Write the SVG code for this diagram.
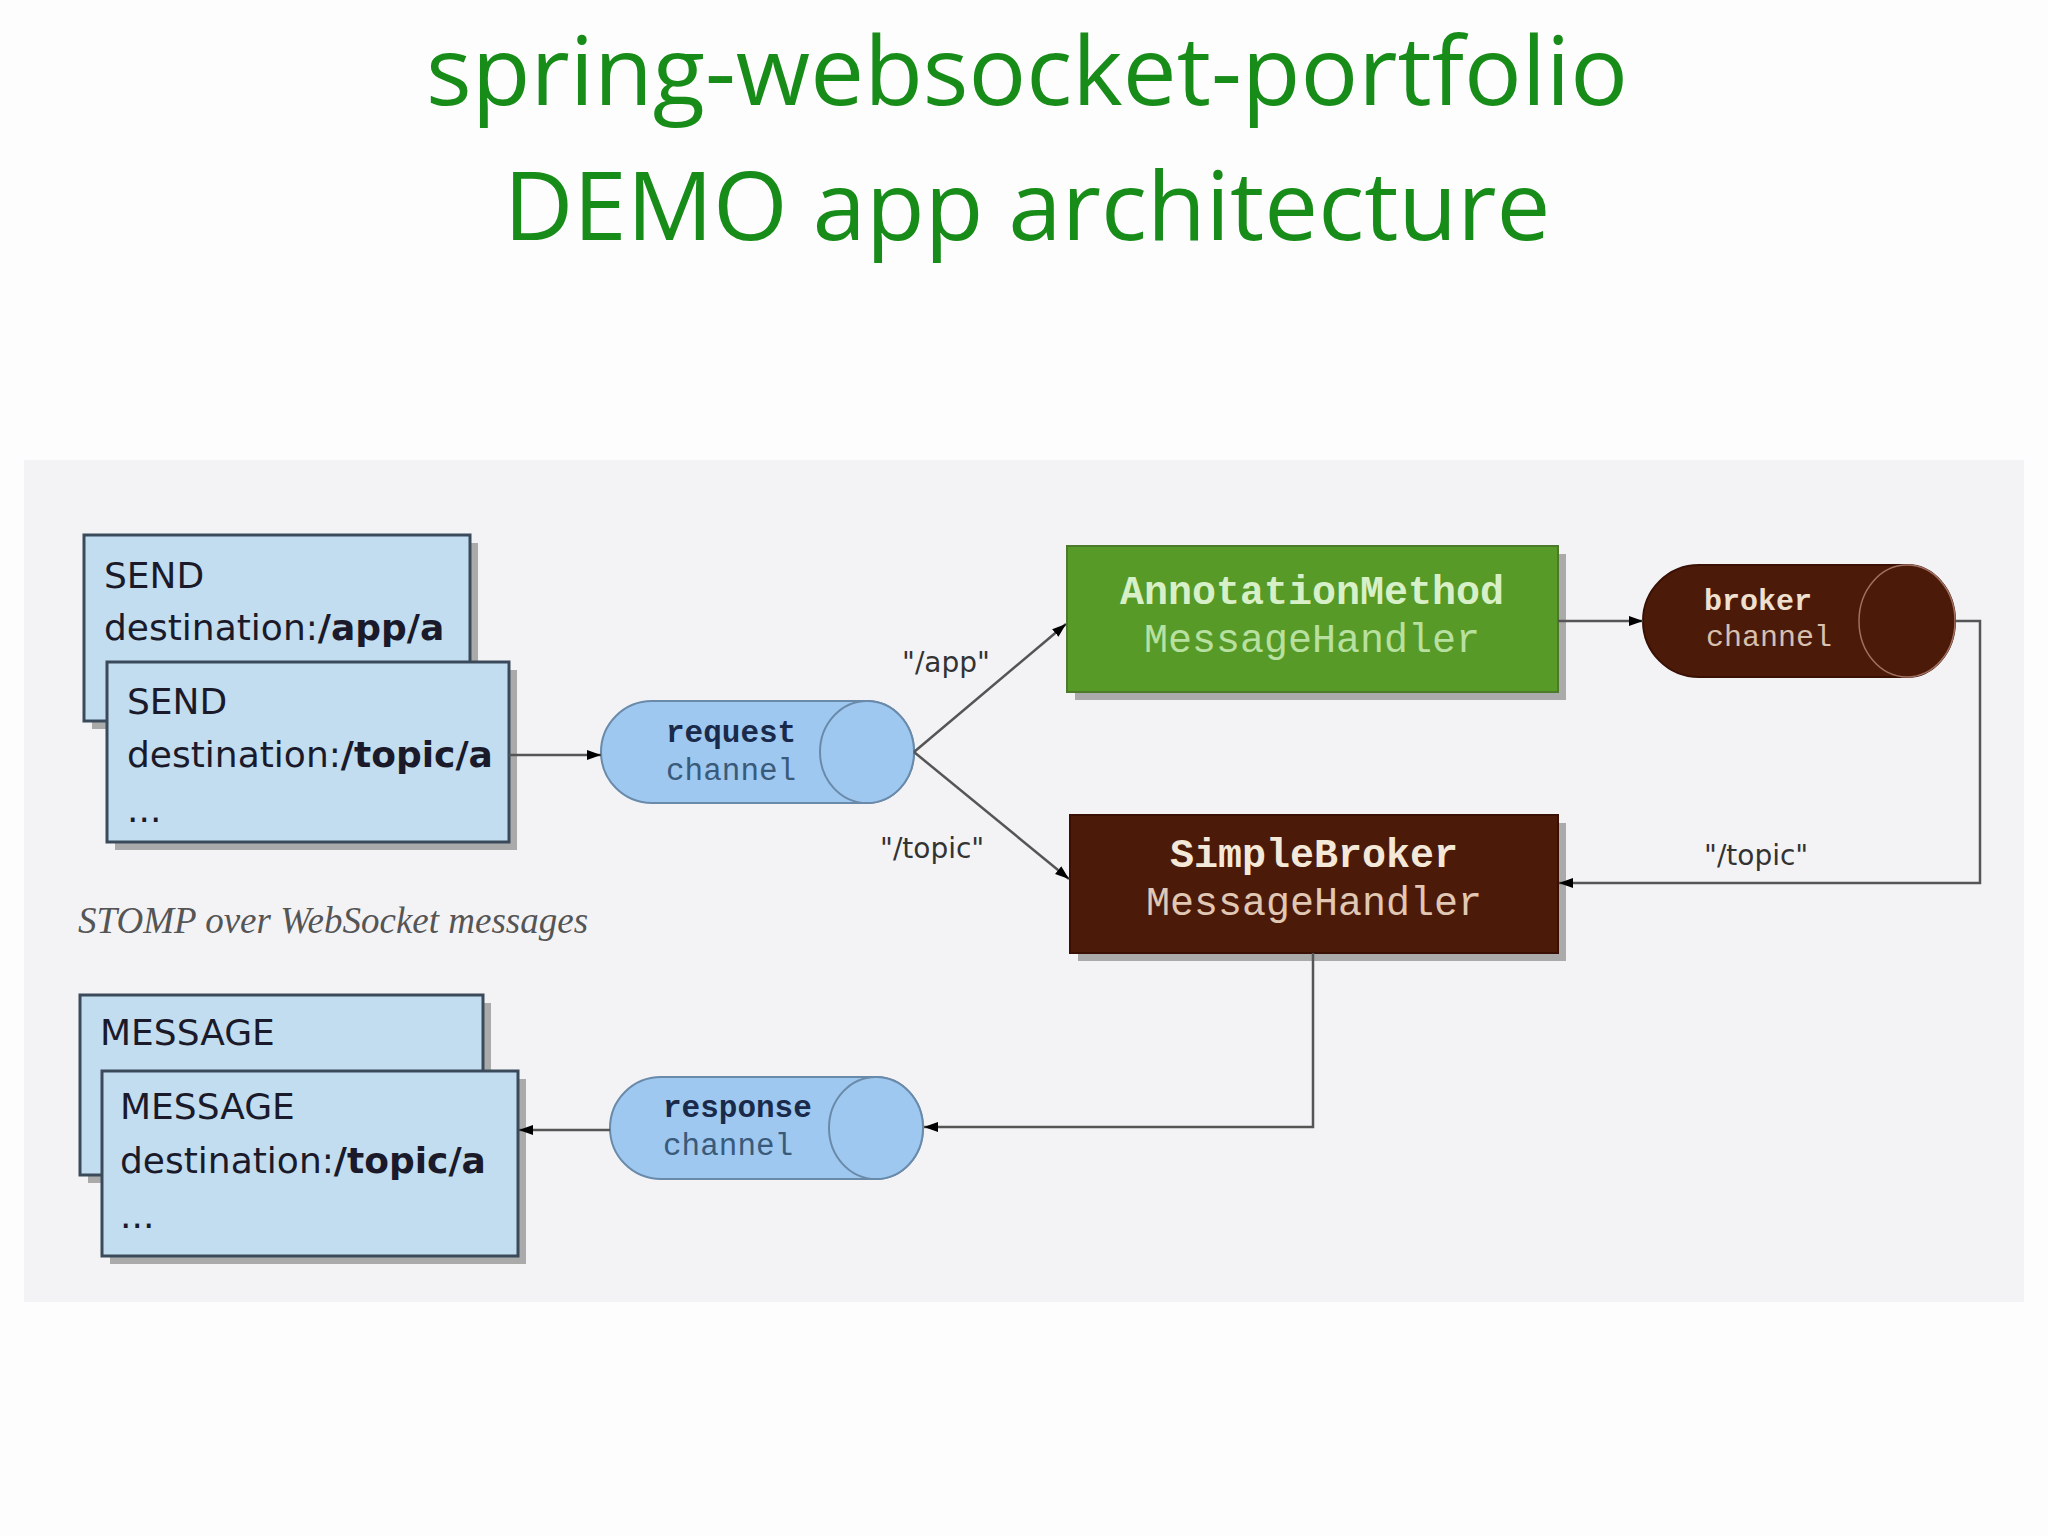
<svg xmlns="http://www.w3.org/2000/svg" width="2048" height="1536" viewBox="0 0 2048 1536">
<style>
.title{font-family:"Open Sans","Liberation Sans",sans-serif;font-size:96px;fill:#188c18;text-anchor:middle}
.msg{font-family:"DejaVu Sans",sans-serif;font-size:36px;fill:#1a1a2a}
.b{font-weight:bold}
.mono{font-family:"Liberation Mono","DejaVu Sans Mono",monospace}
.box{fill:#c3ddf0;stroke:#3a4a5a;stroke-width:3}
.sh{fill:#8a8a8a;opacity:0.7}
.conn{stroke:#555;stroke-width:2.5;fill:none}
.lbl{font-family:"DejaVu Sans",sans-serif;font-size:28px;fill:#333}
</style>
<defs>
<marker id="ah" viewBox="0 0 10 10" refX="10" refY="5" markerWidth="14" markerHeight="14" markerUnits="userSpaceOnUse" orient="auto"><path d="M0,1.5 L10,5 L0,8.5 z" fill="#000"/></marker>
</defs>
<rect width="2048" height="1536" fill="#fdfdfe"/>
<rect x="24" y="460" width="2000" height="842" fill="#f3f3f6"/>
<text class="title" x="1027" y="105">spring-websocket-portfolio</text>
<text class="title" x="1027" y="240">DEMO app architecture</text>

<g id="send-back"><rect class="sh" x="92" y="543" width="386" height="186"/><rect class="box" x="84" y="535" width="386" height="186"/>
<text class="msg" x="104" y="588">SEND</text><text class="msg" x="104" y="640">destination:<tspan class="b">/app/a</tspan></text></g>
<g id="send-front"><rect class="sh" x="115" y="670" width="402" height="180"/><rect class="box" x="107" y="662" width="402" height="180"/>
<text class="msg" x="127" y="714">SEND</text><text class="msg" x="127" y="767">destination:<tspan class="b">/topic/a</tspan></text><text class="msg" x="127" y="822">...</text></g>

<text x="78" y="933" font-family="Liberation Serif,serif" font-style="italic" font-size="37" fill="#555">STOMP over WebSocket messages</text>

<g id="msg-back"><rect class="sh" x="88" y="1003" width="403" height="180"/><rect class="box" x="80" y="995" width="403" height="180"/>
<text class="msg" x="100" y="1045">MESSAGE</text></g>
<g id="msg-front"><rect class="sh" x="110" y="1079" width="416" height="185"/><rect class="box" x="102" y="1071" width="416" height="185"/>
<text class="msg" x="120" y="1119">MESSAGE</text><text class="msg" x="120" y="1173">destination:<tspan class="b">/topic/a</tspan></text><text class="msg" x="120" y="1228">...</text></g>

<g id="request-channel">
<path d="M652,701 H867 A47,51 0 0 1 867,803 H652 A51,51 0 0 1 652,701 z" fill="#9ec8f0" stroke="#6a8aaa" stroke-width="2"/>
<ellipse cx="867" cy="752" rx="47" ry="51" fill="#9ec8f0" stroke="#6a8aaa" stroke-width="2"/>
<text class="mono b" x="666" y="742" font-size="31" fill="#1a2a4a">request</text>
<text class="mono" x="666" y="780" font-size="31" fill="#3a5a7a">channel</text></g>

<g id="response-channel">
<path d="M661,1077 H876 A47,51 0 0 1 876,1179 H661 A51,51 0 0 1 661,1077 z" fill="#9ec8f0" stroke="#6a8aaa" stroke-width="2"/>
<ellipse cx="876" cy="1128" rx="47" ry="51" fill="#9ec8f0" stroke="#6a8aaa" stroke-width="2"/>
<text class="mono b" x="663" y="1117" font-size="31" fill="#1a2a4a">response</text>
<text class="mono" x="663" y="1155" font-size="31" fill="#3a5a7a">channel</text></g>

<g id="annotation-handler"><rect class="sh" x="1075" y="554" width="491" height="146"/>
<rect x="1067" y="546" width="491" height="146" fill="#579a27" stroke="#4a7a2a" stroke-width="2"/>
<text class="mono b" x="1312" y="604" font-size="40" fill="#d8f0c8" text-anchor="middle">AnnotationMethod</text>
<text class="mono" x="1312" y="652" font-size="40" fill="#b8e0a0" text-anchor="middle">MessageHandler</text></g>

<g id="broker-channel">
<path d="M1699,565 H1907 A48,56 0 0 1 1907,677 H1699 A56,56 0 0 1 1699,565 z" fill="#4c1a08" stroke="#3a1005" stroke-width="2"/>
<ellipse cx="1907" cy="621" rx="48" ry="56" fill="#4c1a08" stroke="#a07060" stroke-width="1.5"/>
<text class="mono b" x="1704" y="610" font-size="30" fill="#f0e0d0">broker</text>
<text class="mono" x="1706" y="646" font-size="30" fill="#d8c0b0">channel</text></g>

<g id="simplebroker-handler"><rect class="sh" x="1078" y="823" width="488" height="138"/>
<rect x="1070" y="815" width="488" height="138" fill="#4c1a08" stroke="#3a1005" stroke-width="2"/>
<text class="mono b" x="1314" y="867" font-size="40" fill="#f4e8d8" text-anchor="middle">SimpleBroker</text>
<text class="mono" x="1314" y="915" font-size="40" fill="#e0c8b4" text-anchor="middle">MessageHandler</text></g>

<g id="connectors">
<line class="conn" x1="509" y1="755" x2="601" y2="755" marker-end="url(#ah)"/>
<line class="conn" x1="914" y1="752" x2="1066" y2="624" marker-end="url(#ah)"/>
<line class="conn" x1="914" y1="752" x2="1069" y2="879" marker-end="url(#ah)"/>
<line class="conn" x1="1558" y1="621" x2="1643" y2="621" marker-end="url(#ah)"/>
<polyline class="conn" points="1955,621 1980,621 1980,883 1559,883" marker-end="url(#ah)"/>
<polyline class="conn" points="1313,953 1313,1127 924,1127" marker-end="url(#ah)"/>
<line class="conn" x1="610" y1="1130" x2="519" y2="1130" marker-end="url(#ah)"/>
<text class="lbl" x="902" y="672">"/app"</text>
<text class="lbl" x="880" y="858">"/topic"</text>
<text class="lbl" x="1704" y="865">"/topic"</text>
</g>
</svg>
